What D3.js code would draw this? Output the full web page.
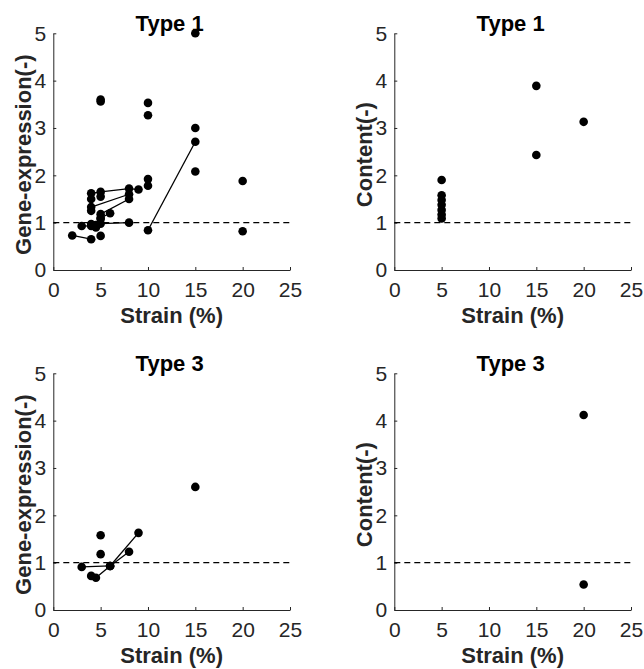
<!DOCTYPE html>
<html>
<head>
<meta charset="utf-8">
<script src="https://cdn.jsdelivr.net/npm/d3@7"></script>
<style>
  body { margin: 0; background: #fff; }
  svg text { font-family: "Liberation Sans", Arial, Helvetica, sans-serif; }
</style>
</head>
<body>
<script>
// strain vs expression / content, 2x2 panels
const xTicks = [0, 5, 10, 15, 20, 25];
const yTicks = [0, 1, 2, 3, 4, 5];
const refLevel = 1;

// Type 1 — gene expression: loose dots
const t1GeneDots = [
    [5, 3.6], [5, 3.56], [10, 3.53], [10, 3.27], [15, 5.0], [15, 3.0], [15, 2.08],
    [20, 1.88], [20, 0.82], [10, 1.92], [10, 1.78], [4, 1.5], [4, 1.25],
    [5, 0.72], [5, 1.55], [5, 1.08], [4.5, 0.9], [4, 0.97]
];
// Type 1 — gene expression: connected series
const t1GeneLines = [
    [[2, 0.73], [4, 0.65]],
    [[3, 0.93], [4, 0.93]],
    [[4, 1.62], [5, 1.65], [8, 1.72], [9, 1.7]],
    [[4, 1.33], [8, 1.6]],
    [[5, 1.18], [8, 1.5]],
    [[5, 0.98], [8, 1.0]],
    [[4.5, 0.95], [5, 1.1], [6, 1.2]],
    [[10, 0.84], [15, 2.71]]
];
// Type 1 — content
const t1ContentDots = [
    [5, 1.9], [5, 1.58], [5, 1.48], [5, 1.38], [5, 1.27], [5, 1.17], [5, 1.09],
    [15, 3.89], [15, 2.43], [20, 3.13]
];
// Type 3 — gene expression
const t3GeneDots = [[5, 1.58], [5, 1.18], [15, 2.6]];
const t3GeneLines = [
    [[3, 0.91], [6, 0.93]],
    [[4, 0.72], [4.5, 0.68], [6, 0.93], [8, 1.23]],
    [[6, 0.93], [9, 1.63]]
];
// Type 3 — content
const t3ContentDots = [[20, 4.12], [20, 0.54]];

const panels = [
    { title: "Type 1", ylab: "Gene-expression(-)", dots: t1GeneDots, lines: t1GeneLines, x0: 53.3, y0: 270 },
    { title: "Type 1", ylab: "Content(-)", dots: t1ContentDots, lines: [], x0: 394.3, y0: 270 },
    { title: "Type 3", ylab: "Gene-expression(-)", dots: t3GeneDots, lines: t3GeneLines, x0: 53.3, y0: 610 },
    { title: "Type 3", ylab: "Content(-)", dots: t3ContentDots, lines: [], x0: 394.3, y0: 610 },
];

const W = 644, H = 669;
const PW = 236.7, PH = 236.7;
const AX = "#262626";

const svg = d3.select("body").append("svg")
    .attr("width", W)
    .attr("height", H);

panels.forEach(p => {
    const x = d3.scaleLinear().domain([0, 25]).range([p.x0, p.x0 + PW]);
    const y = d3.scaleLinear().domain([0, 5]).range([p.y0, p.y0 - PH]);
    const g = svg.append("g");

    // axes (matlab style, ticks inward, box off)
    const xa = g.append("g").attr("transform", `translate(0,${p.y0})`)
        .call(d3.axisBottom(x).tickValues(xTicks).tickFormat(d3.format("d"))
            .tickSizeInner(-3).tickSizeOuter(0).tickPadding(12));
    const ya = g.append("g").attr("transform", `translate(${p.x0},0)`)
        .call(d3.axisLeft(y).tickValues(yTicks).tickFormat(d3.format("d"))
            .tickSizeInner(-3).tickSizeOuter(0).tickPadding(7));
    [xa, ya].forEach(a => {
        a.select(".domain").attr("stroke", AX).attr("stroke-width", 1);
        a.selectAll(".tick line").attr("stroke", AX);
        a.selectAll(".tick text").attr("fill", AX).attr("font-size", 21);
    });
    xa.selectAll(".tick text").attr("dy", "0.71em");

    // reference line at 1
    g.append("line")
        .attr("x1", x(0)).attr("x2", x(25))
        .attr("y1", y(refLevel)).attr("y2", y(refLevel))
        .attr("stroke", "#000").attr("stroke-width", 1.3)
        .attr("stroke-dasharray", "6,4");

    const line = d3.line().x(d => x(d[0])).y(d => y(d[1]));
    g.selectAll("path.series")
        .data(p.lines)
        .join("path")
        .attr("class", "series")
        .attr("d", line)
        .attr("fill", "none")
        .attr("stroke", "#000")
        .attr("stroke-width", 1.3);

    const allDots = p.dots.concat(p.lines.flat());
    g.selectAll("circle")
        .data(allDots)
        .join("circle")
        .attr("cx", d => x(d[0]))
        .attr("cy", d => y(d[1]))
        .attr("r", 4.3)
        .attr("fill", "#000");

    // labels
    g.append("text")
        .attr("x", p.x0 + PW / 2 - 2).attr("y", p.y0 - PH - 2)
        .attr("text-anchor", "middle")
        .attr("font-size", 22).attr("font-weight", "bold").attr("fill", "#000")
        .text(p.title);
    g.append("text")
        .attr("x", p.x0 + PW / 2).attr("y", p.y0 + 53)
        .attr("text-anchor", "middle")
        .attr("font-size", 22).attr("font-weight", "bold").attr("fill", AX)
        .text("Strain (%)");
    g.append("text")
        .attr("transform", `translate(${p.x0 - 22},${p.y0 - PH / 2 + 3}) rotate(-90)`)
        .attr("text-anchor", "middle")
        .attr("font-size", 22).attr("font-weight", "bold").attr("fill", AX)
        .text(p.ylab);
});
</script>
</body>
</html>
